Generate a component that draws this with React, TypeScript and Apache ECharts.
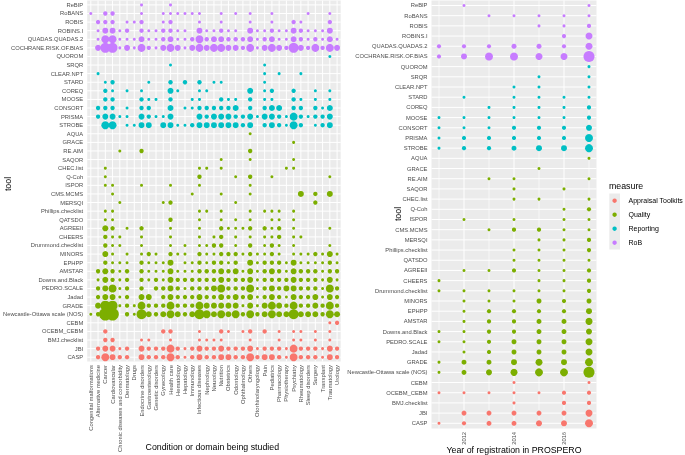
import React, { useEffect, useRef } from "react";
import * as echarts from "echarts";

const FONT = '"Liberation Sans", Arial, Helvetica, sans-serif';

const conditions = [
  "Congenital malformations", "Alternative medicine", "Cancer", "Cardiovascular",
  "Chronic diseases and comorbidity", "Dermatology", "Drugs", "Endocrine disorders",
  "Gastroenterology", "Genetic disorders", "Gynecology", "Health care", "Hematology",
  "Hepatology", "Immunology", "Infectious diseases", "Nephrology", "Neurology",
  "Nutrition", "Obstetrics", "Odontology", "Ophthalmology", "Others",
  "Otorhinolaryngology", "Pain", "Pediatrics", "Pharmacology", "Physiotherapy",
  "Psychiatry", "Rheumatology", "Sleep disorders", "Surgery", "Transplant",
  "Traumatology", "Urology",
];

const years = [2011, 2012, 2013, 2014, 2015, 2016, 2017];
const yearTicks = [2012, 2014, 2016];
const yearMinor = [2011, 2013, 2015, 2017];

const measures = ["Appraisal Toolkits", "Quality", "Reporting", "RoB"];
const measureColors = ["#F8766D", "#7CAE00", "#00BFC4", "#C77CFF"];

const robTools = ["ReBIP", "RoBANS", "ROBIS", "ROBINS.I", "QUADAS.QUADAS.2", "COCHRANE.RISK.OF.BIAS"];
const reportingTools = ["QUOROM", "SRQR", "CLEAR.NPT", "STARD", "COREQ", "MOOSE", "CONSORT", "PRISMA", "STROBE"];
const qualityTools = [
  "AQUA", "GRACE", "RE.AIM", "SAQOR", "CHEC.list", "Q-Coh", "ISPOR", "CMS.MCMS", "MERSQI",
  "Phillips.checklist", "QATSDO", "AGREEII", "CHEERS", "Drummond.checklist", "MINORS", "EPHPP",
  "AMSTAR", "Downs.and.Black", "PEDRO.SCALE", "Jadad", "GRADE", "Newcastle-Ottawa scale (NOS)",
];
const appraisalTools = ["CEBM", "OCEBM_CEBM", "BMJ.checklist", "JBI", "CASP"];
const tools = [...robTools, ...reportingTools, ...qualityTools, ...appraisalTools];

// size class per [condition index, size class]
const robByCondition: Record<string, number[][]> = {
  "ReBIP": [[7,1],[11,1]],
  "RoBANS": [[0,1],[2,2],[3,2],[7,1],[10,1],[11,1],[12,1],[13,1],[14,1],[15,1],[18,1],[20,1],[22,1],[25,1],[30,1],[33,1]],
  "ROBIS": [[1,2],[2,2],[3,2],[5,1],[6,1],[7,2],[10,1],[11,2],[15,1],[18,1],[22,1],[25,1],[28,2],[29,1],[33,2]],
  "ROBINS.I": [[1,1],[2,3],[3,3],[4,1],[5,2],[7,2],[8,1],[9,1],[10,2],[11,2],[12,1],[13,1],[15,3],[16,1],[17,1],[18,2],[19,1],[20,1],[22,3],[23,1],[24,1],[25,2],[26,1],[27,1],[28,3],[29,2],[30,1],[31,1],[32,1],[33,3]],
  "QUADAS.QUADAS.2": [[1,1],[2,4],[3,4],[4,1],[5,1],[6,1],[7,3],[8,1],[9,1],[10,2],[11,3],[12,1],[13,1],[14,2],[15,4],[16,2],[17,3],[18,3],[19,2],[20,2],[21,2],[22,3],[23,1],[24,2],[25,3],[26,1],[27,1],[28,3],[29,2],[30,1],[31,2],[32,1],[33,3],[34,1]],
  "COCHRANE.RISK.OF.BIAS": [[1,3],[2,5],[3,5],[4,1],[5,3],[6,1],[7,4],[8,2],[9,1],[10,3],[11,4],[12,3],[13,1],[14,3],[15,4],[16,3],[17,4],[18,4],[19,3],[20,3],[21,2],[22,4],[23,1],[24,3],[25,4],[26,3],[27,2],[28,5],[29,3],[30,2],[31,4],[32,2],[33,4],[34,3]],
};

const reportingByCondition: Record<string, number[][]> = {
  "QUOROM": [[33,1]],
  "SRQR": [[11,1],[24,1]],
  "CLEAR.NPT": [[1,1],[24,1],[26,1],[29,1]],
  "STARD": [[2,1],[3,2],[8,1],[11,2],[13,2],[15,2],[17,1],[18,1],[24,1]],
  "COREQ": [[2,2],[3,1],[5,1],[7,1],[11,3],[12,1],[15,1],[16,1],[22,3],[24,1],[25,2],[28,2],[31,1],[33,1]],
  "MOOSE": [[2,2],[3,2],[7,2],[8,1],[9,1],[11,2],[14,1],[15,1],[18,2],[19,1],[20,1],[22,2],[24,1],[25,1],[28,2],[29,1],[31,1],[33,1]],
  "CONSORT": [[1,2],[2,2],[3,2],[5,1],[7,2],[8,2],[11,3],[13,1],[14,1],[15,2],[16,2],[17,2],[18,2],[19,2],[20,3],[22,2],[24,2],[25,3],[26,3],[28,2],[29,2],[31,2],[32,1],[33,3]],
  "PRISMA": [[1,2],[2,3],[3,3],[4,1],[5,1],[7,3],[8,2],[9,1],[10,1],[11,3],[15,3],[16,2],[17,3],[18,3],[19,3],[20,2],[21,2],[22,3],[23,1],[24,3],[25,3],[26,2],[27,1],[28,4],[29,2],[30,1],[31,2],[32,2],[33,3]],
  "STROBE": [[2,4],[3,4],[5,1],[6,1],[7,3],[8,3],[10,3],[11,3],[12,1],[13,1],[14,2],[15,3],[16,3],[17,3],[18,3],[19,3],[20,3],[21,2],[22,3],[24,2],[25,3],[26,2],[27,1],[28,4],[29,2],[31,1],[32,2],[33,3]],
};

const qualityByCondition: Record<string, number[][]> = {
  "AQUA": [[22,1]],
  "GRACE": [[28,1]],
  "RE.AIM": [[4,1],[7,2],[22,2]],
  "SAQOR": [[18,1],[22,1],[28,1]],
  "CHEC.list": [[2,1],[15,1],[16,1],[18,1],[27,1],[28,1]],
  "Q-Coh": [[2,1],[15,2],[20,1],[22,2],[25,1],[33,1]],
  "ISPOR": [[2,1],[3,1],[7,1],[11,1],[15,1],[22,1]],
  "CMS.MCMS": [[3,1],[14,1],[18,1],[22,1],[29,3],[31,2],[33,3]],
  "MERSQI": [[4,1],[10,1],[11,2],[20,1],[31,2]],
  "Phillips.checklist": [[2,1],[3,1],[15,1],[16,1],[18,1],[22,1],[24,1],[25,1],[26,1],[28,1]],
  "QATSDO": [[2,1],[3,1],[11,2],[15,1],[18,1],[20,1],[22,1],[25,1],[26,1],[28,1]],
  "AGREEII": [[2,3],[3,2],[5,1],[7,2],[11,1],[15,1],[18,2],[19,1],[20,1],[21,1],[22,2],[24,2],[25,1],[26,2],[28,1],[33,1]],
  "CHEERS": [[2,2],[3,1],[4,1],[7,1],[11,1],[15,1],[17,1],[18,2],[20,1],[22,1],[24,1],[25,1],[26,2],[28,1],[29,1]],
  "Drummond.checklist": [[2,2],[3,1],[4,1],[7,1],[11,1],[13,1],[15,1],[16,1],[17,2],[18,2],[20,1],[22,2],[24,1],[25,2],[26,1],[28,1],[33,1]],
  "MINORS": [[2,3],[3,1],[5,1],[7,1],[8,2],[9,1],[11,2],[12,1],[13,1],[15,2],[16,1],[17,1],[18,2],[19,2],[20,2],[21,1],[22,2],[23,1],[24,1],[25,2],[26,1],[28,1],[29,1],[30,1],[31,2],[32,1],[33,3],[34,1]],
  "EPHPP": [[2,2],[3,1],[4,1],[5,1],[7,2],[8,1],[9,1],[10,1],[11,3],[13,1],[14,1],[15,2],[16,1],[17,2],[18,2],[19,1],[20,2],[22,3],[23,1],[24,2],[25,2],[26,2],[27,1],[28,3],[29,1],[30,1],[31,1],[32,1],[33,2],[34,1]],
  "AMSTAR": [[1,2],[2,3],[3,2],[4,1],[5,2],[7,2],[8,1],[9,1],[10,1],[11,3],[12,1],[13,1],[14,1],[15,2],[16,2],[17,2],[18,3],[19,2],[20,3],[21,1],[22,3],[23,1],[24,2],[25,3],[26,2],[27,1],[28,3],[29,2],[30,2],[31,2],[32,1],[33,2],[34,2]],
  "Downs.and.Black": [[1,1],[2,3],[3,2],[4,1],[5,2],[7,2],[8,1],[9,2],[10,1],[11,3],[12,2],[13,2],[14,2],[15,2],[16,2],[17,2],[18,3],[19,2],[20,2],[21,2],[22,3],[23,1],[24,2],[25,2],[26,2],[27,2],[28,3],[29,2],[30,2],[31,2],[32,1],[33,3],[34,1]],
  "PEDRO.SCALE": [[1,2],[2,3],[3,4],[4,1],[5,2],[7,2],[9,2],[10,2],[11,3],[12,2],[13,1],[14,2],[15,2],[16,2],[17,3],[18,4],[19,2],[20,2],[21,2],[22,4],[23,1],[24,2],[25,3],[26,2],[27,3],[28,3],[29,2],[30,2],[31,2],[32,1],[33,4],[34,2]],
  "Jadad": [[1,2],[2,3],[3,3],[4,1],[5,2],[7,3],[8,3],[10,2],[11,3],[12,2],[13,2],[14,2],[15,3],[16,2],[17,2],[18,3],[19,2],[20,3],[21,2],[22,3],[23,1],[24,2],[25,3],[26,2],[27,1],[28,3],[29,2],[30,2],[31,3],[32,1],[33,3],[34,2]],
  "GRADE": [[1,3],[2,5],[3,5],[4,1],[5,2],[6,1],[7,4],[8,2],[9,2],[10,2],[11,4],[12,2],[13,2],[14,2],[15,4],[16,3],[17,3],[18,3],[19,3],[20,3],[21,1],[22,3],[23,1],[24,3],[25,4],[26,3],[27,2],[28,4],[29,2],[30,2],[31,3],[32,2],[33,4],[34,2]],
  "Newcastle-Ottawa scale (NOS)": [[0,1],[1,2],[2,6],[3,6],[5,2],[6,1],[7,5],[8,3],[9,2],[10,3],[11,4],[12,3],[13,2],[14,3],[15,5],[16,4],[17,3],[18,4],[19,3],[20,4],[21,2],[22,4],[23,2],[24,3],[25,4],[26,3],[27,3],[28,5],[29,3],[30,3],[31,3],[32,2],[33,4],[34,3]],
};

const appraisalByCondition: Record<string, number[][]> = {
  "CEBM": [[33,1],[34,2]],
  "OCEBM_CEBM": [[2,2],[10,2],[11,2],[15,1],[18,2],[19,1],[21,1],[22,2],[24,2],[26,1],[28,1],[29,1],[31,1],[33,1]],
  "BMJ.checklist": [[2,2],[3,2],[7,1],[8,1],[11,1],[15,1],[16,1],[17,1],[18,1],[22,1],[26,1],[28,1],[29,1],[31,1],[33,1]],
  "JBI": [[1,2],[2,3],[3,3],[4,1],[5,2],[7,3],[8,2],[9,2],[10,2],[11,4],[12,2],[13,1],[14,2],[15,3],[16,2],[17,2],[18,3],[19,2],[20,2],[21,2],[22,3],[23,1],[24,2],[25,2],[26,2],[27,1],[28,4],[29,2],[30,2],[31,2],[32,1],[33,3],[34,2]],
  "CASP": [[1,2],[2,4],[3,3],[4,2],[5,2],[7,3],[8,2],[9,2],[10,2],[11,4],[12,2],[13,1],[14,2],[15,3],[16,2],[17,2],[18,3],[19,3],[20,2],[21,2],[22,4],[23,2],[24,3],[25,3],[26,2],[27,1],[28,4],[29,2],[30,2],[31,2],[32,1],[33,3],[34,2]],
};

// size class per year 2011..2017
const robByYear: Record<string, number[]> = {
  "ReBIP": [0,1,0,0,0,0,1],
  "RoBANS": [0,0,1,1,1,1,1],
  "ROBIS": [0,0,0,0,1,1,2],
  "ROBINS.I": [0,0,0,0,0,2,5],
  "QUADAS.QUADAS.2": [2,2,2,3,3,2,5],
  "COCHRANE.RISK.OF.BIAS": [2,4,6,6,5,5,7],
};
const reportingByYear: Record<string, number[]> = {
  "QUOROM": [0,0,0,0,0,0,1],
  "SRQR": [0,0,0,0,1,0,1],
  "CLEAR.NPT": [0,0,0,1,1,0,1],
  "STARD": [0,1,0,1,1,1,1],
  "COREQ": [0,0,1,1,1,1,2],
  "MOOSE": [1,1,1,1,1,1,2],
  "CONSORT": [1,1,1,2,2,2,4],
  "PRISMA": [1,2,2,2,2,2,6],
  "STROBE": [1,2,2,3,4,4,6],
};
const qualityByYear: Record<string, number[]> = {
  "AQUA": [0,0,0,0,0,0,1],
  "GRACE": [0,0,0,0,1,0,0],
  "RE.AIM": [0,0,1,1,0,0,1],
  "SAQOR": [0,0,0,1,0,1,0],
  "CHEC.list": [0,0,0,1,1,0,1],
  "Q-Coh": [0,0,0,0,0,1,2],
  "ISPOR": [0,1,0,1,0,1,1],
  "CMS.MCMS": [0,0,1,2,2,1,1],
  "MERSQI": [0,0,0,0,1,1,2],
  "Phillips.checklist": [0,0,0,1,1,1,2],
  "QATSDO": [0,0,0,1,1,1,1],
  "AGREEII": [0,1,1,2,1,1,2],
  "CHEERS": [1,0,0,0,1,1,2],
  "Drummond.checklist": [1,1,1,1,1,1,2],
  "MINORS": [0,1,1,1,3,2,3],
  "EPHPP": [0,1,2,2,2,2,4],
  "AMSTAR": [0,1,2,2,3,3,5],
  "Downs.and.Black": [1,1,2,2,3,3,4],
  "PEDRO.SCALE": [1,1,2,3,3,3,5],
  "Jadad": [0,1,2,3,3,3,5],
  "GRADE": [1,3,3,4,5,4,6],
  "Newcastle-Ottawa scale (NOS)": [1,3,4,5,6,6,7],
};
const appraisalByYear: Record<string, number[]> = {
  "CEBM": [0,0,0,1,0,0,1],
  "OCEBM_CEBM": [1,1,1,1,1,2,2],
  "BMJ.checklist": [0,0,0,1,0,2,2],
  "JBI": [0,3,3,3,3,3,5],
  "CASP": [1,2,3,3,4,4,6],
};

const LEFT_DIAM = [0, 3, 4.4, 6, 8, 10, 12.5];
const RIGHT_DIAM = [0, 3, 4.2, 5, 6, 7, 8, 11];

function conditionPoints(rec: Record<string, number[][]>) {
  const pts: number[][] = [];
  Object.keys(rec).forEach((t) => {
    const yi = tools.indexOf(t);
    rec[t].forEach(([ci, n]) => pts.push([ci, yi, n]));
  });
  return pts;
}
function yearPoints(rec: Record<string, number[]>) {
  const pts: number[][] = [];
  Object.keys(rec).forEach((t) => {
    const yi = tools.indexOf(t);
    rec[t].forEach((n, k) => { if (n > 0) pts.push([years[k], yi, n]); });
  });
  return pts;
}

function gridLines(gi: number, vertical: boolean, values: number[], width: number) {
  return {
    type: "custom",
    xAxisIndex: gi,
    yAxisIndex: gi,
    silent: true,
    z: 1,
    data: values.map((v) => (vertical ? [v, 0] : [gi === 0 ? 0 : years[0], v])),
    renderItem: (params: any, api: any) => {
      const cs = params.coordSys;
      const p = api.coord([api.value(0), api.value(1)]);
      const shape = vertical
        ? { x1: p[0], y1: cs.y, x2: p[0], y2: cs.y + cs.height }
        : { x1: cs.x, y1: p[1], x2: cs.x + cs.width, y2: p[1] };
      return { type: "line", shape, style: { stroke: "#FFFFFF", lineWidth: width } };
    },
  };
}

export default function App() {
  const ref = useRef<HTMLDivElement>(null);
  useEffect(() => {
    const chart = echarts.init(ref.current!, null, { renderer: "svg" });
    const labelStyle = { fontSize: 5.8, color: "#4D4D4D", fontFamily: FONT };
    const tickStyle = { length: 2, lineStyle: { color: "#333333", width: 0.6 } };
    const leftSets = [appraisalByCondition, qualityByCondition, reportingByCondition, robByCondition];
    const rightSets = [appraisalByYear, qualityByYear, reportingByYear, robByYear];
    const series: any[] = [
      gridLines(0, true, conditions.map((_, i) => i), 1),
      gridLines(0, false, tools.map((_, i) => i), 1),
      gridLines(1, true, yearTicks, 1),
      gridLines(1, true, yearMinor, 0.6),
      gridLines(1, false, tools.map((_, i) => i), 1),
    ];
    measures.forEach((m, k) => {
      series.push({
        type: "scatter", name: m, xAxisIndex: 0, yAxisIndex: 0, z: 3,
        data: conditionPoints(leftSets[k]),
        symbolSize: (v: number[]) => LEFT_DIAM[v[2]],
        itemStyle: { color: measureColors[k], opacity: 1 },
      });
      series.push({
        type: "scatter", name: m, xAxisIndex: 1, yAxisIndex: 1, z: 3,
        data: yearPoints(rightSets[k]),
        symbolSize: (v: number[]) => RIGHT_DIAM[v[2]],
        itemStyle: { color: measureColors[k], opacity: 1 },
      });
    });

    const legendItems: any[] = [
      { type: "rect", shape: { x: 609.3, y: 193.5, width: 10.7, height: 56 }, style: { fill: "#EBEBEB" } },
      { type: "text", x: 609, y: 186, style: { text: "measure", fontSize: 8.8, fill: "#000", fontFamily: FONT, verticalAlign: "middle" } },
    ];
    measures.forEach((m, k) => {
      legendItems.push({ type: "circle", shape: { cx: 614.6, cy: 200.7 + 14 * k, r: 2.2 }, style: { fill: measureColors[k] } });
      legendItems.push({ type: "text", x: 628.5, y: 200.7 + 14 * k, style: { text: m, fontSize: 7, fill: "#000", fontFamily: FONT, verticalAlign: "middle" } });
    });

    chart.setOption({
      animation: false,
      textStyle: { fontFamily: FONT },
      grid: [
        { left: 84, top: 0.6, width: 256.7, height: 367, show: true, backgroundColor: "#EBEBEB", borderWidth: 0 },
        { left: 431.5, top: 0.4, width: 165, height: 428, show: true, backgroundColor: "#EBEBEB", borderWidth: 0 },
      ],
      xAxis: [
        {
          gridIndex: 0, type: "category", data: conditions, boundaryGap: true,
          axisLine: { show: false }, axisTick: { ...tickStyle, alignWithLabel: true, interval: 0 },
          axisLabel: { ...labelStyle, rotate: 90, interval: 0, margin: 3.5 },
          splitLine: { show: false },
        },
        {
          gridIndex: 1, type: "value", min: 2010.7, max: 2017.3,
          axisLine: { show: false },
          axisTick: { ...tickStyle, customValues: yearTicks },
          axisLabel: { ...labelStyle, rotate: 90, margin: 3.5, customValues: yearTicks, formatter: (v: number) => String(v) },
          splitLine: { show: false },
        },
      ],
      yAxis: [
        {
          gridIndex: 0, type: "category", data: tools, inverse: true, boundaryGap: true,
          axisLine: { show: false }, axisTick: { ...tickStyle, alignWithLabel: true, interval: 0 },
          axisLabel: { ...labelStyle, interval: 0, margin: 4 },
          splitLine: { show: false },
        },
        {
          gridIndex: 1, type: "category", data: tools, inverse: true, boundaryGap: true,
          axisLine: { show: false }, axisTick: { ...tickStyle, alignWithLabel: true, interval: 0 },
          axisLabel: { ...labelStyle, interval: 0, margin: 4 },
          splitLine: { show: false },
        },
      ],
      graphic: [
        { type: "text", x: 7.5, y: 184, rotation: Math.PI / 2, style: { text: "tool", fontSize: 8.8, fill: "#000", fontFamily: FONT, align: "center", verticalAlign: "middle" } },
        { type: "text", x: 398, y: 214, rotation: Math.PI / 2, style: { text: "tool", fontSize: 8.8, fill: "#000", fontFamily: FONT, align: "center", verticalAlign: "middle" } },
        { type: "text", x: 212.3, y: 447, style: { text: "Condition or domain being studied", fontSize: 8.8, fill: "#000", fontFamily: FONT, align: "center", verticalAlign: "middle" } },
        { type: "text", x: 514, y: 450, style: { text: "Year of registration in PROSPERO", fontSize: 8.8, fill: "#000", fontFamily: FONT, align: "center", verticalAlign: "middle" } },
        ...legendItems,
      ],
      series,
    });
    return () => chart.dispose();
  }, []);
  return <div ref={ref} style={{ position: "fixed", left: 0, top: 0, width: 685, height: 455 }} />;
}
